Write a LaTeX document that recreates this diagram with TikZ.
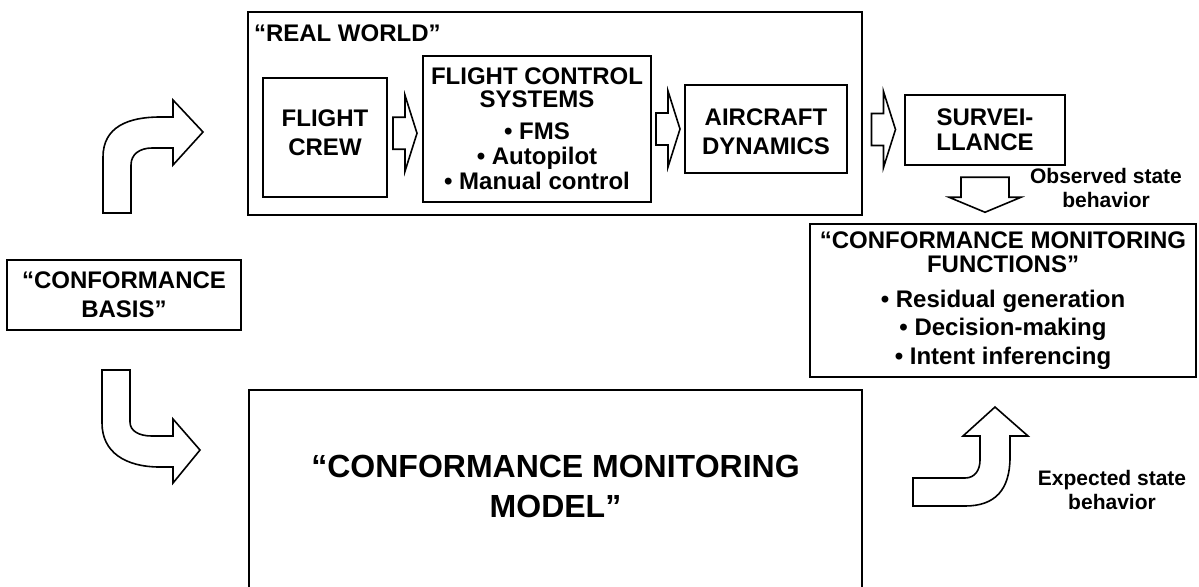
\documentclass[tikz,border=0pt]{standalone}
\usepackage{fontspec}
\setmainfont{Liberation Sans}
\usetikzlibrary{calc}

\begin{document}
\begin{tikzpicture}[x=0.5pt,y=-0.5pt]
    \useasboundingbox (0,0) rectangle (1199,586);

    \tikzstyle{box}=[draw=black,line width=1pt,align=center,inner sep=0pt,font=\bfseries\fontsize{12}{14.5}\selectfont]
    \tikzstyle{big}=[align=center,inner sep=0pt,font=\bfseries\fontsize{16}{20}\selectfont]
    \tikzstyle{lbl}=[align=center,inner sep=0pt,font=\bfseries\fontsize{10.5}{12}\selectfont]
    \tikzstyle{blk}=[draw=black,line width=0.8pt,fill=white,line join=miter]

    \node[box,minimum width=62pt,minimum height=59.5pt]  (crew) at (325,137.5) {FLIGHT\\CREW\\[-10pt]};
    \node[box,minimum width=114pt,minimum height=73pt,font=\bfseries\fontsize{12}{11.5}\selectfont]  (fcs) at (537,129) {FLIGHT CONTROL\\SYSTEMS\\[4.5pt]• FMS\\[1pt]• Autopilot\\[1pt]• Manual control};
    \node[box,minimum width=81pt,minimum height=44pt]  (dyn) at (766,129) {\\[-3pt]AIRCRAFT\\DYNAMICS};
    \node[draw=black,line width=1pt,minimum width=307pt,minimum height=101.5pt,inner sep=0pt] (rw) at (555,113.5) {};
    \node[box,anchor=west,draw=none] (rwtitle) at (253,33) {“REAL WORLD”};
    \node[box,minimum width=80pt,minimum height=35pt,font=\bfseries\fontsize{12}{12.5}\selectfont]  (surv) at (985,129.5) {SURVEI-\\LLANCE};
    \node[box,minimum width=193pt,minimum height=76.5pt,font=\bfseries\fontsize{12}{12}\selectfont]  (cmf) at (1003,300.5) {\\[-3pt]“CONFORMANCE MONITORING\\FUNCTIONS”\\[5.5pt]• Residual generation\\[2pt]• Decision-making\\[2.5pt]• Intent inferencing};
    \node[box,minimum width=117pt,minimum height=35pt]  (basis) at (124,295) {“CONFORMANCE\\BASIS”};
    \node[draw=black,line width=1pt,minimum width=306.5pt,minimum height=110pt,inner sep=0pt]  (cmm) at (555.5,500) {};
    \node[big]  (cmmtext) at (555.5,486) {“CONFORMANCE MONITORING\\MODEL”};
    \node[lbl]  (obs) at (1106,188) {Observed state\\behavior};
    \node[lbl]  (exp) at (1112,490) {Expected state\\behavior};

    % straight hollow arrows
    \newcommand{\rarrow}[1]{\draw[blk,shift={(#1)}] (-12,-16) -- (0,-16) -- (0,-38) -- (12,0) -- (0,38) -- (0,16) -- (-12,16) -- cycle;}
    \coordinate (a1) at ($(crew.east)!0.5!(fcs.west)$);
    \coordinate (a2) at ($(fcs.east)!0.5!(dyn.west)$);
    \coordinate (a3) at ($(rw.east|-surv.west)!0.5!(surv.west)$);
    \coordinate (a4) at ($(surv.south)!0.5!(surv.south|-cmf.north)$);
    \rarrow{a1}
    \rarrow{a2}
    \rarrow{a3}
    \draw[blk,shift={(a4)}] (-24,-17) -- (24,-17) -- (24,3) -- (36,3) -- (0,18) -- (-36,3) -- (-24,3) -- cycle;

    % curved hollow arrows
    \draw[blk] (103,213) -- (103,157) .. controls (103,127) and (128,117) .. (160,117) -- (173,117) -- (173,100)
        -- (203,132) -- (173,165) -- (173,148) -- (152,148) .. controls (140,148) and (131,154) .. (131,165) -- (131,213) -- cycle;
    \draw[blk] (102,370) -- (102,423) .. controls (102,452) and (125,467) .. (160,467) -- (173,467) -- (173,483)
        -- (200,450) -- (173,419) -- (173,436) -- (152,436) .. controls (139,436) and (130,431) .. (130,422) -- (130,370) -- cycle;
    \draw[blk] (995,407) -- (1028,436) -- (1010,436) -- (1010,457) .. controls (1010,490) and (995,506) .. (965,506)
        -- (913,506) -- (913,478) -- (965,478) .. controls (975,478) and (980,470) .. (980,460) -- (980,436) -- (963,436) -- cycle;
\end{tikzpicture}
\end{document}
